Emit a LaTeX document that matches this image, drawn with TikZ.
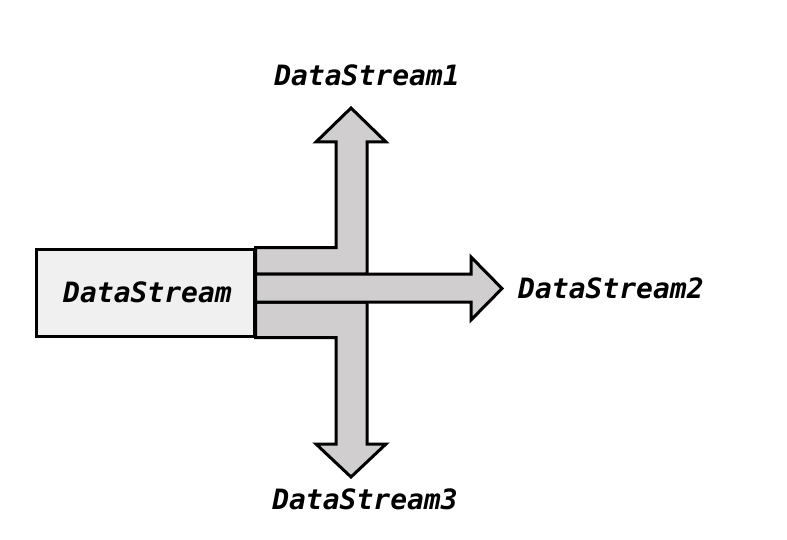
\documentclass[tikz,border=0pt]{standalone}
\usepackage{fontspec}
\newfontfamily\streamfont{DejaVu Sans Mono}
\usepackage{xcolor}
\definecolor{boxbg}{HTML}{F0F0F0}
\definecolor{flowfill}{HTML}{D0CECF}
\usetikzlibrary{positioning, calc}

\begin{document}
\begin{tikzpicture}[
        x=1pt, y=-1pt,
        font=\streamfont\bfseries\itshape\fontsize{28}{32}\selectfont,
        source_box/.style={
            rectangle,
            draw=black,
            fill=boxbg,
            line width=3pt,
            minimum width=218pt,
            minimum height=87pt,
            inner sep=0pt
        },
        flow/.style={
            draw=black,
            fill=flowfill,
            line width=3pt,
            line join=miter
        },
        stream_label/.style={
            inner sep=0pt,
            text=black
        }
    ]
    \useasboundingbox (0,0) rectangle (787,540);

    % Source box (Left)
    \node[source_box] (src) at (145,292.5) {\hspace*{5pt}DataStream};

    % Anchor points along the right side of the box
    \coordinate (top_in) at (src.north east);
    \coordinate (bot_in) at (src.south east);
    \coordinate (up_split) at ($(src.east)+(0,-18.5)$);
    \coordinate (down_split) at ($(src.east)+(0,9.5)$);

    % Branch going up (L shape)
    \draw[flow] (top_in) -| (336,142) -- (316,142) -- (351,108)
        -- (386,142) -- (367,142) |- (up_split) -- cycle;

    % Branch going down (L shape)
    \draw[flow] (down_split) -| (367,444) -- (386,444) -- (351,477)
        -- (316,444) -- (336,444) |- (bot_in) -- cycle;

    % Straight branch (right)
    \draw[flow] (up_split) -| (471,257) -- (502,288.5)
        -- (471,320) |- (down_split) -- cycle;

    % Tip coordinates for the labels
    \coordinate (up_tip) at (351,108);
    \coordinate (right_tip) at (502,288.5);
    \coordinate (down_tip) at (351,477);

    % Output labels
    \node[stream_label, above=22pt of up_tip, xshift=16pt] (out1) {DataStream1};
    \node[stream_label, right=16pt of right_tip] (out2) {DataStream2};
    \node[stream_label, below=12pt of down_tip, xshift=14pt] (out3) {DataStream3};

\end{tikzpicture}
\end{document}
